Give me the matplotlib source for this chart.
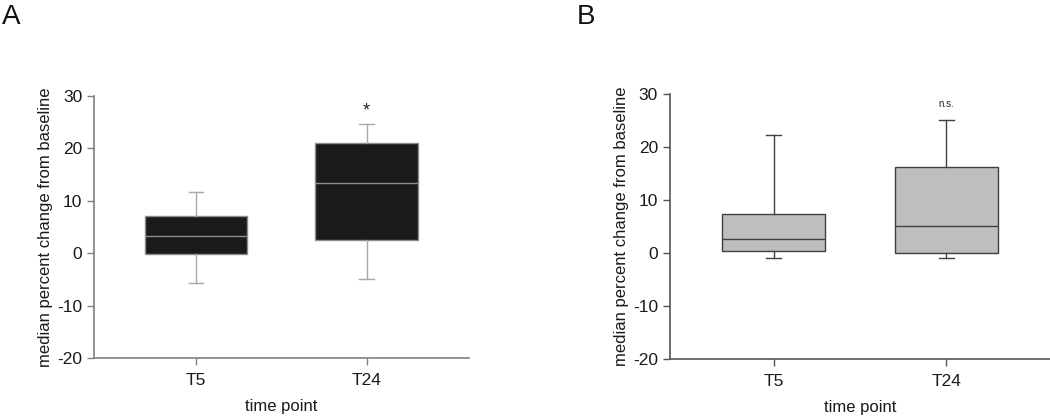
import matplotlib.pyplot as plt

plt.rcParams['font.family'] = ['Liberation Sans', 'DejaVu Sans']
plt.rcParams['axes.unicode_minus'] = False

# Data (percent change from baseline)
groups = ["T5", "T24"]

a_whislo = [-5.6, -5.0]
a_q1     = [-0.2, 2.5]
a_med    = [3.2, 13.4]
a_q3     = [7.2, 21.0]
a_whishi = [11.6, 24.7]

b_whislo = [-1.0, -1.0]
b_q1     = [0.4, 0.05]
b_med    = [2.7, 5.0]
b_q3     = [7.3, 16.2]
b_whishi = [22.2, 25.1]

a_marks = ["", "*"]
b_marks = ["", "n.s."]


def stats(lo, q1, med, q3, hi):
    return [dict(whislo=lo[i], q1=q1[i], med=med[i], q3=q3[i], whishi=hi[i],
                 label=groups[i], fliers=[]) for i in range(len(groups))]


def panel(ax, st, face, edge, whis, medc, spine, marks, mark_y, mark_size):
    ax.bxp(st, positions=[1, 2], widths=0.6, patch_artist=True, showfliers=False,
           capwidths=0.085,
           boxprops=dict(facecolor=face, edgecolor=edge, linewidth=1.0),
           whiskerprops=dict(color=whis, linewidth=1.0),
           capprops=dict(color=whis, linewidth=1.0),
           medianprops=dict(color=medc, linewidth=1.0))
    for i, m in enumerate(marks):
        if m:
            ax.text(i + 1, mark_y[i], m, ha='center', va='center',
                    fontsize=mark_size, color='#222222')
    ax.set_xlim(0.4, 2.6)
    ax.set_ylim(-20, 30)
    ax.set_yticks([-20, -10, 0, 10, 20, 30])
    ax.set_xticks([1, 2])
    ax.set_xticklabels(groups)
    for s in ['top', 'right']:
        ax.spines[s].set_visible(False)
    for s in ['left', 'bottom']:
        ax.spines[s].set_color(spine)
        ax.spines[s].set_linewidth(1.2)
    ax.tick_params(direction='out', length=5, width=1.0, color=spine,
                   labelsize=12.5, labelcolor='#1a1a1a')
    ax.tick_params(axis='x', pad=6)
    ax.set_xlabel("time point", fontsize=12, color='#1a1a1a', labelpad=8)
    ax.set_ylabel("median percent change from baseline", fontsize=12,
                  color='#1a1a1a', labelpad=3)


fig = plt.figure(figsize=(10.5, 4.17), dpi=100)
ax_a = fig.add_axes([0.0895, 0.1415, 0.357, 0.628])
ax_b = fig.add_axes([0.638, 0.140, 0.362, 0.634])

panel(ax_a, stats(a_whislo, a_q1, a_med, a_q3, a_whishi),
      '#1a1a1a', '#8c8c8c', '#a8a8a8', '#8c8c8c', '#808080',
      a_marks, [27.2, 27.2], 13)
panel(ax_b, stats(b_whislo, b_q1, b_med, b_q3, b_whishi),
      '#bebebe', '#404040', '#404040', '#404040', '#555555',
      b_marks, [28.2, 28.2], 7)

fig.text(0.002, 0.99, "A", fontsize=20, ha='left', va='top', color='#111111')
fig.text(0.549, 0.99, "B", fontsize=20, ha='left', va='top', color='#111111')

fig.savefig("out.png", dpi=100)
